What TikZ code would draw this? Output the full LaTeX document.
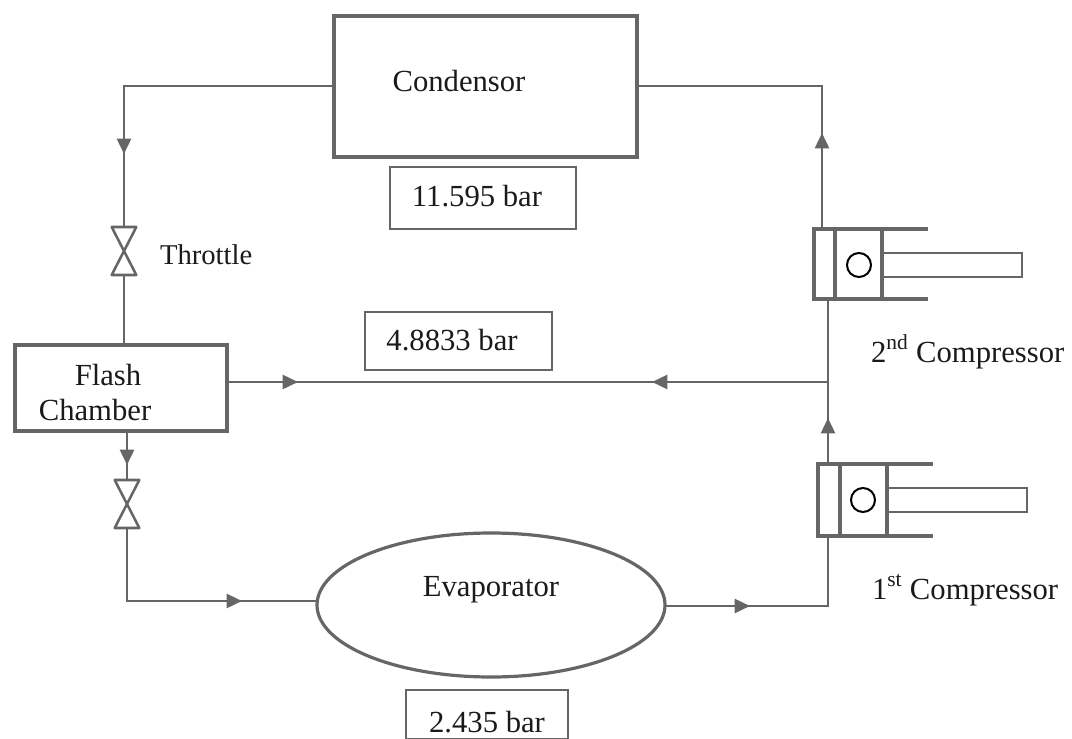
\documentclass[tikz,border=0pt]{standalone}
\usepackage{fontspec}
\setmainfont{Liberation Serif}
\usetikzlibrary{arrows.meta,decorations.markings,shapes.geometric}
\definecolor{ln}{HTML}{666666}
\definecolor{txt}{HTML}{1A1A1A}
\tikzset{
  every node/.append style={outer sep=0pt},
  pipe/.style={draw=ln,line width=1.9pt,line cap=butt},
  arrowat/.style={postaction={decorate},decoration={markings,mark=at position #1*0.75pt with {\arrow[ln]{Triangle[length=11.5pt,width=10.5pt]}}}},
  thickbox/.style={draw=ln,line width=3.2pt,fill=white,inner sep=0pt,text=txt},
  labelbox/.style={draw=ln,line width=1.3pt,fill=white,inner sep=0pt,text=txt},
  cylwall/.style={draw=ln,line width=3.2pt,inner sep=0pt,line cap=butt},
  rodbox/.style={draw=ln,line width=1.6pt,inner sep=0pt,fill=white},
  wristpin/.style={circle,draw=black,line width=1.5pt,inner sep=0pt,minimum size=18pt},
  valvebox/.style={inner sep=0pt,minimum width=18.5pt,minimum height=36pt},
  valveline/.style={draw=ln,line width=1.9pt,line join=round},
  tag/.style={inner sep=0pt,text=txt,font=\fontsize{23}{27}\selectfont}
}
\begin{document}
\begin{tikzpicture}[x=0.75pt,y=-0.75pt]
\useasboundingbox (0,0) rectangle (1072,739);
% boxes
\node[thickbox,minimum width=227.25pt,minimum height=105.75pt,anchor=north west] (cond) at (334,16) {};
\node[tag] (condt) at (459,81) {Condensor};
\node[labelbox,minimum width=139.5pt,minimum height=46.5pt] (p1) at (483,198) {};
\node[tag] (p1t) at (477,196) {11.595 bar};
\node[labelbox,minimum width=140.25pt,minimum height=43.5pt] (p2) at (458.5,341) {};
\node[tag] (p2t) at (452,340) {4.8833 bar};
\node[labelbox,minimum width=121.5pt,minimum height=36.75pt,anchor=north west] (p3) at (406,690) {};
\node[tag] (p3t) at (487,722) {2.435 bar};
\node[thickbox,minimum width=159pt,minimum height=64.5pt] (flash) at (121,388) {};
\node[tag] (flt) at (108,375) {Flash};
\node[tag] (cht) at (95,410) {Chamber};
\node[thickbox,ellipse,draw,line width=2.4pt,minimum width=261pt,minimum height=108pt] (evap) at (491,605) {};
\node[tag] (evt) at (491,590) {Evaporator};
% valves
\node[valvebox] (v1) at (124,251) {};
\node[valvebox] (v2) at (127,504) {};
% compressor 2
\node[cylwall,minimum width=15.75pt,minimum height=52.5pt,anchor=north west] (c2) at (814,229) {};
\node[rodbox,minimum width=105pt,minimum height=18pt,anchor=west] (r2) at (882,265) {};
\node[cylwall,minimum width=35.25pt,minimum height=52.5pt,anchor=north west,fill=white] (pist2) at (835,229) {};
\node[wristpin] (pin2) at (859,265) {};
\coordinate (c2a) at (928,229);
\coordinate (c2b) at (928,299);
\draw[cylwall] (pist2.north east) -- (c2a);
\draw[cylwall] (pist2.south east) -- (c2b);
% compressor 1
\node[cylwall,minimum width=16.5pt,minimum height=54pt,anchor=north west] (c1) at (818,464) {};
\node[rodbox,minimum width=105pt,minimum height=18pt,anchor=west] (r1) at (887,500) {};
\node[cylwall,minimum width=35.25pt,minimum height=54pt,anchor=north west,fill=white] (pist1) at (840,464) {};
\node[wristpin] (pin1) at (863,500) {};
\coordinate (c1a) at (933,464);
\coordinate (c1b) at (933,536);
\draw[cylwall] (pist1.north east) -- (c1a);
\draw[cylwall] (pist1.south east) -- (c1b);
% valve glyphs
\draw[valveline] (v1.north west) -- (v1.north east) -- (v1.south west) -- (v1.south east) -- cycle;
\draw[valveline] (v2.north west) -- (v2.north east) -- (v2.south west) -- (v2.south east) -- cycle;
% junction and helpers
\coordinate (j) at (828,382);
\coordinate (split) at (450,382);
\coordinate (cl) at (334,86);
\coordinate (cr) at (637,86);
\coordinate (c2t) at (822,229);
\coordinate (c2d) at (828,299);
\coordinate (c1t) at (828,464);
\coordinate (c1d) at (828,536);
\coordinate (fe) at (227,382);
\coordinate (ft) at (124,345);
\coordinate (fb) at (127,431);
\coordinate (el) at (317,601);
\coordinate (er) at (665,606);
% connectors
\draw[pipe,arrowat=278] (cl) -| (v1.north);
\draw[pipe] (v1.south) -- (ft);
\draw[pipe,arrowat=71] (fe) -- (split);
\draw[pipe,arrowat=176] (j) -- (split);
\draw[pipe,arrowat=34] (fb) -- (v2.north);
\draw[pipe,arrowat=188] (v2.south) |- (el);
\draw[pipe,arrowat=85] (er) -| (c1d);
\draw[pipe,arrowat=46] (c1t) -- (j);
\draw[pipe] (j) -- (c2d);
\draw[pipe,arrowat=96] (c2t) |- (cr);
% labels
\node[tag,anchor=base west] (thr) at (160,264) {\fontsize{21.5}{26}\selectfont Throttle};
\node[tag,anchor=base west] (cp2) at (871,362) {2\textsuperscript{nd} Compressor};
\node[tag,anchor=base west] (cp1) at (872,599) {1\textsuperscript{st} Compressor};
\end{tikzpicture}
\end{document}
